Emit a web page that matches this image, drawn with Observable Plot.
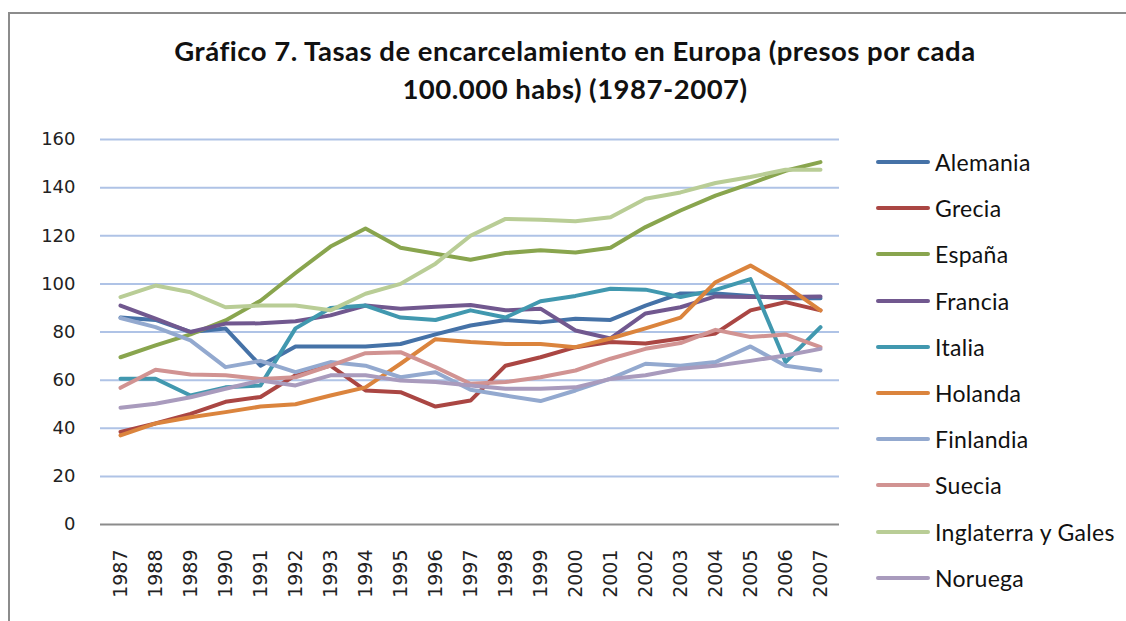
<!DOCTYPE html>
<html>
<head>
<meta charset="utf-8">
<script src="https://cdn.jsdelivr.net/npm/d3@7"></script>
<script src="https://cdn.jsdelivr.net/npm/@observablehq/plot@0.6"></script>
<style>
  html, body { margin: 0; padding: 0; background: #fff; width: 1126px; height: 621px; overflow: hidden; }
  #frame { position: absolute; left: 8px; top: 12px; width: 1200px; height: 700px; border: 2px solid #8c8c8c; box-sizing: border-box; }
  #title { position: absolute; left: 75px; width: 1000px; top: 32px; text-align: center; font-family: Lato, sans-serif; font-weight: 700; font-size: 27.5px; letter-spacing: 0.5px; line-height: 38px; color: #111; }
  #chart { position: absolute; left: 0; top: 120px; }
  #legend { position: absolute; left: 876px; top: 0; font-family: Lato, sans-serif; font-size: 23px; letter-spacing: 0.3px; color: #111; }
  .item { position: absolute; left: 0; white-space: nowrap; }
  .swatch { position: absolute; left: 0; width: 54px; height: 4px; border-radius: 2px; }
  .lab { position: absolute; left: 59px; }
</style>
</head>
<body>
<div id="frame"></div>
<div id="title">Gráfico 7. Tasas de encarcelamiento en Europa (presos por cada<br>100.000 habs) (1987-2007)</div>
<div id="chart"></div>
<div id="legend"></div>
<script>
const years = ["1987","1988","1989","1990","1991","1992","1993","1994","1995","1996","1997","1998","1999","2000","2001","2002","2003","2004","2005","2006","2007"];
const seriesNames = ["Alemania","Grecia","España","Francia","Italia","Holanda","Finlandia","Suecia","Inglaterra y Gales","Noruega"];
const seriesColors = ["#4572A7","#AA4643","#89A54E","#71588F","#4198AF","#DB843D","#93A9CF","#D19392","#B9CD96","#A99BBD"];
const yTicks = [0,20,40,60,80,100,120,140,160];

const alemania   = [86, 85, 80, 81.5, 66, 74, 74, 74, 75, 79, 82.7, 85, 84, 85.5, 85, 91, 96, 96, 95, 94, 94];
const grecia     = [38.5, 42, 46, 51, 53, 62, 66, 55.7, 55, 49, 51.5, 66, 69.5, 73.7, 75.8, 75.2, 77.3, 79.4, 89, 92.4, 89];
const espana     = [69.5, 74.4, 79, 84.8, 93, 104.5, 115.5, 123, 115, 112.5, 110, 112.8, 114, 113, 115, 123.6, 130.5, 136.7, 141.7, 147, 150.6];
const francia    = [91, 85.6, 80, 83.5, 83.6, 84.5, 86.9, 91, 89.7, 90.5, 91.2, 89, 89.7, 80.6, 77.3, 87.7, 90.3, 94.8, 94.5, 94.5, 94.8];
const italia     = [60.6, 60.6, 53.6, 57, 57.8, 81.5, 90, 91, 86, 85, 89, 86, 92.8, 95, 98, 97.6, 94.5, 97.5, 102, 67.5, 82];
const holanda    = [37, 42, 44.6, 46.7, 49, 50, 53.6, 57, 66.8, 77, 75.8, 75, 75, 73.7, 77.3, 81.5, 86, 100.7, 107.6, 99.3, 89];
const finlandia  = [85.8, 82, 76.5, 65.4, 68, 63.3, 67.5, 66, 61.2, 63.3, 56, 53.6, 51.3, 55.7, 60.6, 66.8, 66, 67.5, 74, 66, 64];
const suecia     = [56.8, 64.3, 62.3, 62, 60.5, 61.2, 66, 71.2, 71.6, 65.4, 58.5, 59.2, 61.2, 64, 68.9, 73, 75.4, 80.9, 77.9, 79, 73.7];
const inglaterra = [94.5, 99.3, 96.5, 90.3, 91, 91, 89, 95.9, 100, 108.4, 120, 127, 126.6, 126, 127.7, 135.4, 138, 141.9, 144.4, 147.4, 147.4];
const noruega    = [48.5, 50.2, 52.9, 56.4, 59.8, 57.8, 62, 62, 59.8, 59.2, 57.8, 56.4, 56.4, 57, 60.5, 62, 64.7, 66, 68, 70.2, 73];

const seriesValues = [alemania, grecia, espana, francia, italia, holanda, finlandia, suecia, inglaterra, noruega];

const data = [];
seriesNames.forEach((name, s) => {
  years.forEach((yr, i) => data.push({series: name, year: yr, value: seriesValues[s][i]}));
});

const chart = Plot.plot({
  width: 850,
  height: 500,
  marginLeft: 100,
  marginRight: 11,
  marginTop: 19,
  marginBottom: 96,
  style: {background: "transparent", fontFamily: "'DejaVu Sans', sans-serif"},
  x: {type: "point", domain: years, padding: 0.5, label: null},
  y: {domain: [0, 160], label: null},
  color: {domain: seriesNames, range: seriesColors},
  marks: [
    Plot.ruleY(yTicks.filter(d => d > 0), {stroke: "#AFC3E6", strokeWidth: 2}),
    Plot.ruleY([0], {stroke: "#8c8c8c", strokeWidth: 2}),
    Plot.axisY({ticks: yTicks, tickSize: 0, tickPadding: 25, fontSize: 18, fill: "#222", label: null}),
    Plot.axisX({tickRotate: -90, tickSize: 0, tickPadding: 25, fontSize: 19, fill: "#222", label: null}),
    Plot.line(data, {x: "year", y: "value", z: "series", stroke: "series", strokeWidth: 4, strokeLinejoin: "round", strokeLinecap: "round"})
  ]
});
document.getElementById("chart").appendChild(chart);

const legend = document.getElementById("legend");
seriesNames.forEach((name, i) => {
  const cy = 162 + i * 46.2;
  const item = document.createElement("div");
  item.className = "item";
  item.style.top = (cy - 14) + "px";
  item.innerHTML = `<div class="swatch" style="top:12px;background:${seriesColors[i]}"></div><div class="lab" style="top:0;line-height:28px">${name}</div>`;
  legend.appendChild(item);
});
</script>
</body>
</html>
